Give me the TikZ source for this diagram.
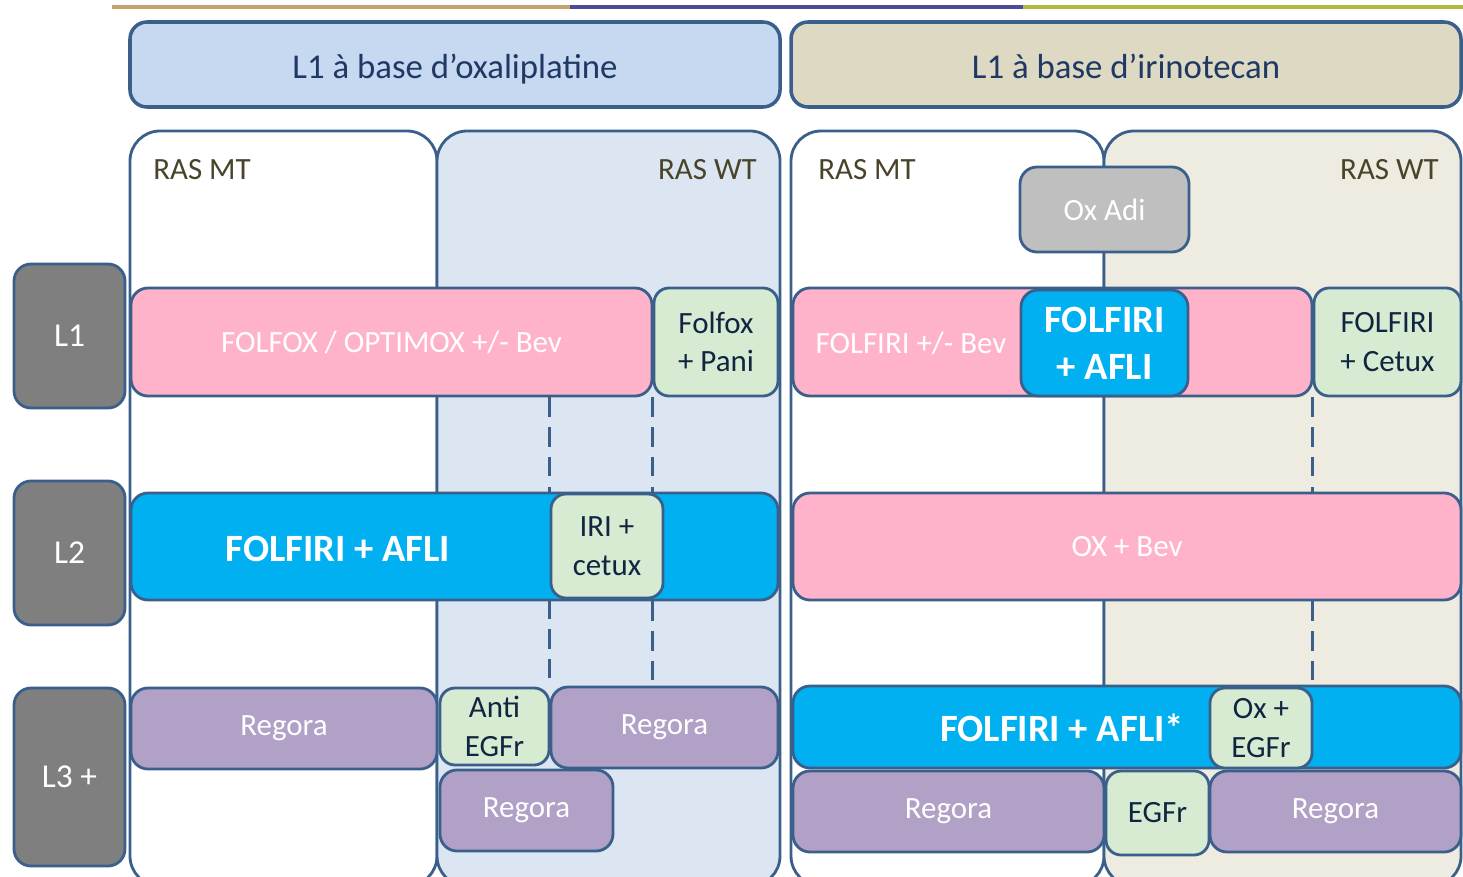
\documentclass[tikz,border=0pt]{standalone}
\usepackage{fontspec}
\setmainfont{Carlito}
\definecolor{bd}{HTML}{3A5F8B}
\definecolor{hA}{HTML}{C6D9F1}
\definecolor{hB}{HTML}{DDD9C3}
\definecolor{pA}{HTML}{DCE6F2}
\definecolor{pB}{HTML}{EEECE1}
\definecolor{pk}{HTML}{FFB3CA}
\definecolor{bl}{HTML}{00B0F0}
\definecolor{gr}{HTML}{D7EAD2}
\definecolor{pu}{HTML}{B1A1C7}
\definecolor{lg}{HTML}{7F7F7F}
\definecolor{ox}{HTML}{BFBFBF}
\definecolor{tx}{HTML}{10253F}
\definecolor{ttl}{HTML}{1F3864}
\definecolor{ras}{HTML}{494429}
\definecolor{lnA}{HTML}{C2A46C}
\definecolor{lnB}{HTML}{4B4B97}
\definecolor{lnC}{HTML}{B3B83A}
\newcommand\fsn{\fontsize{17.6}{22}\selectfont}
\newcommand\fsb{\bfseries\fontsize{22}{26.6}\selectfont}
\newcommand\fst{\fontsize{19.8}{24}\selectfont}
\newcommand\fsl{\fontsize{19}{23}\selectfont}
\newcommand\bx[7]{\node[#1, minimum width={(#5-(#3))*0.02cm}, minimum height={(#6-(#4))*0.02cm}] (#2) at ({(#3+#5)/2},{(#4+#6)/2}) {#7};}
\tikzset{
  base/.style={draw=bd, line width=1.6pt, rounded corners=0.34cm, inner sep=0pt, align=center, font=\fsn},
  header/.style={base, line width=2pt},
  titletext/.style={text=ttl, font=\fst, inner sep=0pt, anchor=base},
  panel/.style={draw=bd, line width=1.6pt, rounded corners=0.6cm, inner sep=0pt},
  pinkb/.style={base, fill=pk, text=white},
  blueb/.style={base, fill=bl, text=white, font=\fsb},
  greenb/.style={base, fill=gr, text=tx, rounded corners=0.3cm},
  purpleb/.style={base, fill=pu, text=white},
  grayb/.style={base, fill=ox, text=white},
  labelb/.style={base, fill=lg, text=white, font=\fsl},
  rastext/.style={text=ras, font=\fsn, inner sep=0pt},
  wtext/.style={text=white, font=\fsn, inner sep=0pt},
  wbold/.style={text=white, font=\fsb, inner sep=0pt},
  dashl/.style={draw=bd, line width=1.6pt, dash pattern=on 11pt off 6pt},
  topline/.style={line width=2.3pt}
}
\begin{document}
\begin{tikzpicture}[x=0.02cm,y=-0.02cm]
\useasboundingbox (0,0) rectangle (1463,876);
\clip (0,0) rectangle (1463,876);
\fill[white] (0,0) rectangle (1463,876);
% top coloured rule
\draw[topline, lnA] (112,7) -- (570,7);
\draw[topline, lnB] (570,7) -- (1023,7);
\draw[topline, lnC] (1023,7) -- (1463,7);
% headers
\bx{header, fill=hA}{hoxa}{130}{22}{780}{107}{}
\bx{header, fill=hB}{hiri}{791}{22}{1461}{107}{}
\node[titletext] (thoxa) at (455,78) {L1 à base d’oxaliplatine};
\node[titletext] (thiri) at (1126,78) {L1 à base d’irinotecan};
% panels
\bx{panel, fill=white}{pmtA}{130}{131}{437}{886}{}
\bx{panel, fill=pA}{pwtA}{437}{131}{780}{886}{}
\bx{panel, fill=white}{pmtB}{791}{131}{1104}{886}{}
\bx{panel, fill=pB}{pwtB}{1104}{131}{1461}{886}{}
\node[rastext, anchor=west] (rasmtA) at (153,170) {RAS MT};
\node[rastext, anchor=east] (raswtA) at (757,170) {RAS WT};
\node[rastext, anchor=west] (rasmtB) at (818,170) {RAS MT};
\node[rastext, anchor=east] (raswtB) at (1439,170) {RAS WT};
% Ox Adi
\bx{grayb}{oxadi}{1020}{167}{1189}{252}{Ox Adi}
% row L1
\bx{pinkb}{folfox}{131}{288}{652}{396}{FOLFOX / OPTIMOX +/- Bev}
\bx{greenb}{pani}{654}{288}{778}{396}{Folfox\\+ Pani}
\bx{pinkb}{folfiri}{793}{288}{1312}{396}{}
\node[wtext] (tfolfiri) at (911,343) {FOLFIRI +/- Bev};
\bx{blueb}{afliA}{1021}{290}{1188}{396}{FOLFIRI\\+ AFLI}
\bx{greenb}{cetux}{1314}{288}{1461}{396}{FOLFIRI\\+ Cetux}
% row L2
\bx{blueb}{afliB}{131}{493}{778}{600}{}
\node[wbold] (tafliB) at (338,549) {FOLFIRI + AFLI};
\bx{greenb}{iri}{551}{494}{663}{598}{IRI +\\cetux}
\bx{pinkb}{oxbev}{793}{493}{1461}{600}{OX + Bev}
% row L3
\bx{purpleb}{regA}{131}{688}{437}{769}{Regora}
\bx{greenb}{anti}{440}{688}{549}{765}{Anti\\EGFr}
\bx{purpleb}{regB}{551}{687}{778}{768}{Regora}
\bx{purpleb}{regC}{440}{770}{613}{851}{Regora}
\bx{blueb}{afliC}{793}{686}{1461}{768}{}
\node[wbold] (tafliC) at (1062,728) {FOLFIRI + AFLI*};
\bx{greenb}{oxegfr}{1210}{688}{1312}{768}{Ox +\\EGFr}
\bx{purpleb}{regD}{793}{771}{1104}{852}{Regora}
\bx{greenb}{egfr}{1106}{771}{1209}{855}{EGFr}
\bx{purpleb}{regE}{1210}{771}{1461}{852}{Regora}
% dashed links
\draw[dashl] (iri.west |- folfox.south) -- (iri.north west);
\draw[dashl] (pani.south west) -- (pani.west |- afliB.north);
\draw[dashl] (iri.south west) -- (iri.west |- regB.north);
\draw[dashl] (pani.west |- afliB.south) -- (pani.west |- regB.north);
\draw[dashl] (cetux.south west) -- (cetux.west |- oxbev.north);
\draw[dashl] (cetux.west |- oxbev.south) -- (cetux.west |- afliC.north);
% row labels
\bx{labelb}{lA}{14}{264}{125}{408}{L1}
\bx{labelb}{lB}{14}{481}{125}{625}{L2}
\bx{labelb}{lC}{14}{688}{125}{866}{L3 +}
\end{tikzpicture}
\end{document}
